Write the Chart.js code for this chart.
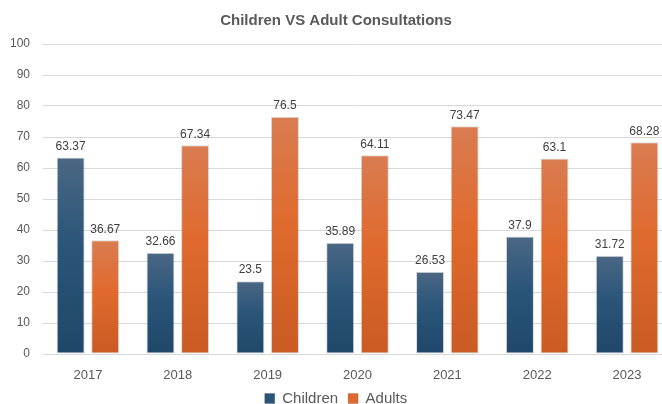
<!DOCTYPE html>
<html>
<head>
<meta charset="utf-8">
<script src="https://cdn.jsdelivr.net/npm/chart.js@4"></script>
<style>
    html, body { margin: 0; padding: 0; background: #fff; overflow: hidden; }
    #wrap { width: 684px; height: 404px; overflow: hidden; }
</style>
</head>
<body>
<div id="wrap"><canvas id="grafico" width="684" height="416"></canvas></div>
<script>
const anos = ['2017', '2018', '2019', '2020', '2021', '2022', '2023'];
const criancas = [63.37, 32.66, 23.5, 35.89, 26.53, 37.9, 31.72];
const adultos = [36.67, 67.34, 76.5, 64.11, 73.47, 63.1, 68.28];
const yMin = 0;
const yMax = 100;
const yPasso = 10;

const fonteTexto = '"Liberation Sans", Arial, sans-serif';
const corTexto = '#595959';

// gradiente por barra, claro em cima e escuro embaixo
const coresGradiente = [
    ['#4b6784', '#2a5579', '#1f4769'],
    ['#d97c51', '#e06a2e', '#c95b23']
];

const gradientePlugin = {
    id: 'gradiente',
    beforeDatasetDraw(chart, args) {
        const ctx = chart.ctx;
        const cores = coresGradiente[args.index];
        args.meta.data.forEach(bar => {
            const g = ctx.createLinearGradient(0, bar.y, 0, bar.base);
            g.addColorStop(0, cores[0]);
            g.addColorStop(0.45, cores[1]);
            g.addColorStop(1, cores[2]);
            bar.options.backgroundColor = g;
        });
    }
};

const rotulosPlugin = {
    id: 'rotulos',
    afterDatasetsDraw(chart) {
        const ctx = chart.ctx;
        ctx.save();
        ctx.font = '12px ' + fonteTexto;
        ctx.fillStyle = '#404040';
        ctx.textAlign = 'center';
        ctx.textBaseline = 'bottom';
        chart.data.datasets.forEach((ds, i) => {
            chart.getDatasetMeta(i).data.forEach((bar, j) => {
                ctx.fillText(String(ds.data[j]), bar.x, bar.y - 5);
            });
        });
        ctx.restore();
    }
};

new Chart(document.getElementById('grafico'), {
    type: 'bar',
    data: {
        labels: anos,
        datasets: [
            {
                label: 'Children',
                data: criancas,
                backgroundColor: () => '#2a5579',
                borderColor: 'rgba(0,0,0,0.15)',
                borderWidth: 1,
                borderSkipped: false
            },
            {
                label: 'Adults',
                data: adultos,
                backgroundColor: () => '#e06a2e',
                borderColor: 'rgba(0,0,0,0.15)',
                borderWidth: 1,
                borderSkipped: false
            }
        ]
    },
    options: {
        responsive: false,
        animation: false,
        devicePixelRatio: 1,
        categoryPercentage: 0.77,
        barPercentage: 0.81,
        layout: { padding: { left: 0, right: 12, top: 12, bottom: 0 } },
        plugins: {
            title: {
                display: true,
                text: 'Children VS Adult Consultations',
                color: corTexto,
                font: { family: fonteTexto, size: 15, weight: 'bold' },
                padding: { top: 0, bottom: 14 }
            },
            legend: {
                position: 'bottom',
                labels: {
                    color: corTexto,
                    font: { family: fonteTexto, size: 15 },
                    boxWidth: 10,
                    boxHeight: 10,
                    padding: 10
                }
            },
            tooltip: { enabled: false }
        },
        scales: {
            x: {
                grid: { display: false },
                border: { display: true, color: '#d9d9d9' },
                ticks: { color: corTexto, font: { family: fonteTexto, size: 13 }, padding: 6 },
                afterFit(scale) { scale.height = 27; }
            },
            y: {
                min: yMin,
                max: yMax,
                ticks: {
                    stepSize: yPasso,
                    color: corTexto,
                    font: { family: fonteTexto, size: 12 },
                    padding: 13
                },
                grid: { color: '#d9d9d9', drawTicks: false },
                border: { display: false },
                afterFit(scale) { scale.width = 43; }
            }
        }
    },
    plugins: [gradientePlugin, rotulosPlugin]
});
</script>
</body>
</html>
